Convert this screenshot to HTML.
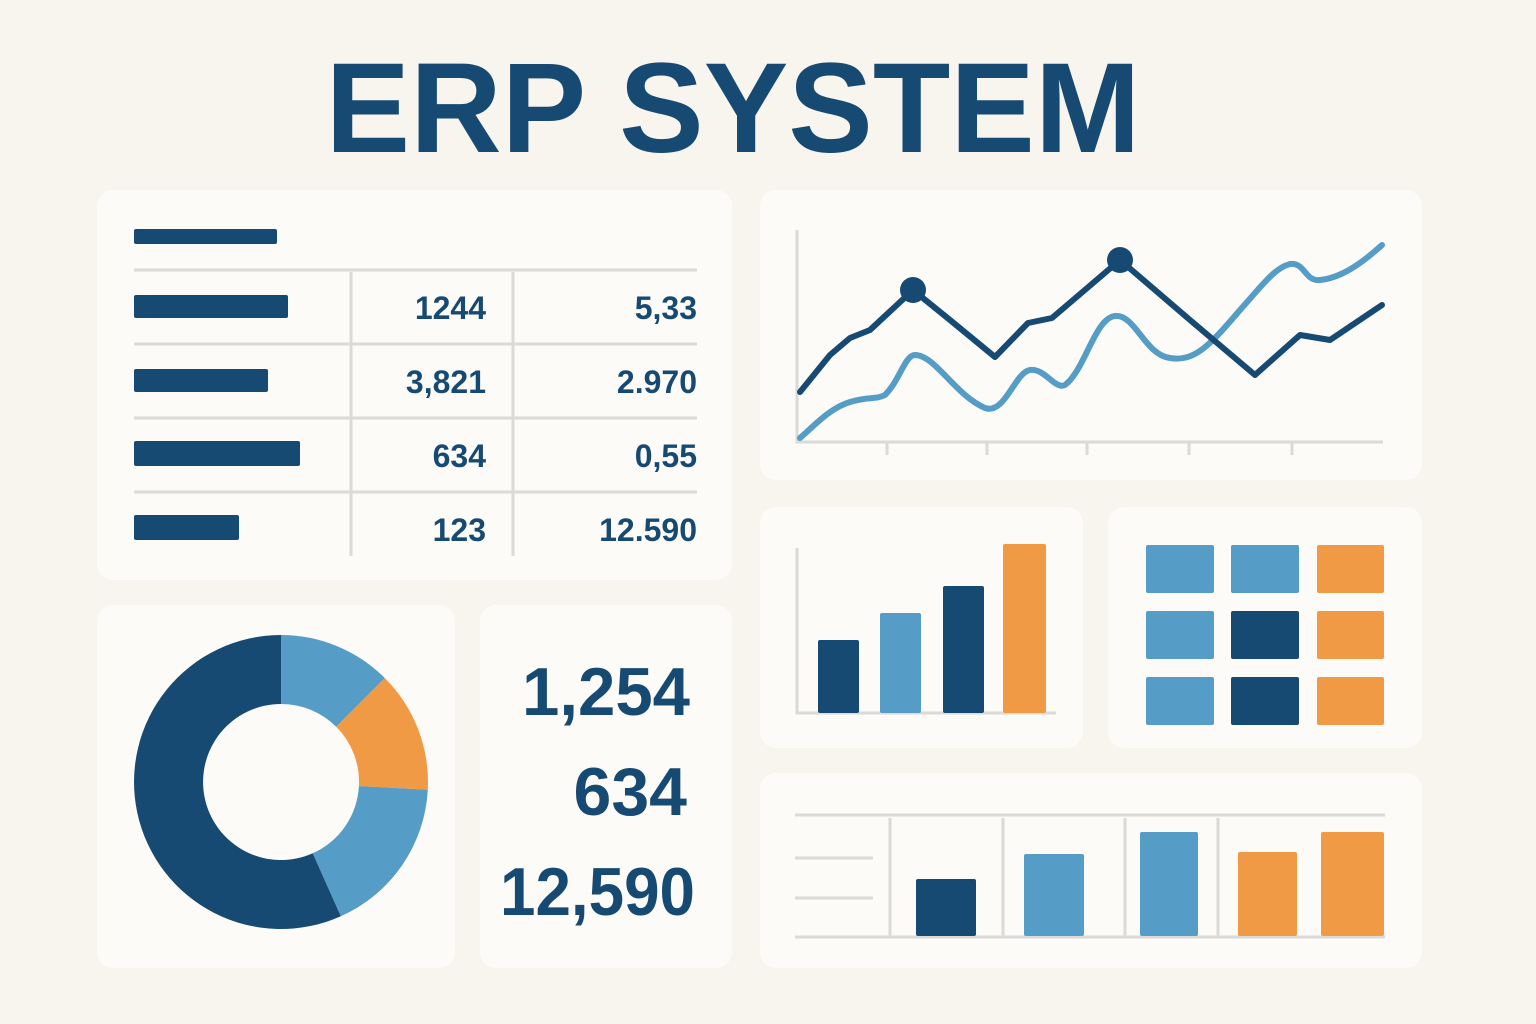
<!DOCTYPE html>
<html><head><meta charset="utf-8"><style>
html,body{margin:0;padding:0;background:#f8f4ee;}
svg{display:block}
text{font-family:"Liberation Sans",sans-serif;}
</style></head><body>
<svg width="1536" height="1024" viewBox="0 0 1536 1024" xmlns="http://www.w3.org/2000/svg">
<rect width="1536" height="1024" fill="#f8f4ee"/>
<text x="733" y="152" text-anchor="middle" font-size="128" font-weight="bold" fill="#174a72" textLength="815" lengthAdjust="spacingAndGlyphs">ERP SYSTEM</text>
<g fill="#fdfbf8">
<rect x="97" y="190" width="635" height="390" rx="16"/>
<rect x="760" y="190" width="662" height="290" rx="16"/>
<rect x="97" y="605" width="358" height="363" rx="16"/>
<rect x="480" y="605" width="252" height="363" rx="16"/>
<rect x="760" y="507" width="323" height="241" rx="16"/>
<rect x="1108" y="507" width="314" height="241" rx="16"/>
<rect x="760" y="773" width="662" height="195" rx="16"/>
</g>
<g fill="#174a72">
<rect x="134" y="229" width="143" height="15" rx="2"/>
<rect x="134" y="295" width="154" height="23" rx="2"/>
<rect x="134" y="369" width="134" height="23" rx="2"/>
<rect x="134" y="441" width="166" height="25" rx="2"/>
<rect x="134" y="515" width="105" height="25" rx="2"/>
</g>
<g stroke="#dcdad6" stroke-width="3">
<line x1="134" y1="270" x2="697" y2="270"/>
<line x1="134" y1="344" x2="697" y2="344"/>
<line x1="134" y1="418" x2="697" y2="418"/>
<line x1="134" y1="492" x2="697" y2="492"/>
<line x1="351" y1="272" x2="351" y2="556"/>
<line x1="513" y1="272" x2="513" y2="556"/>
</g>
<g font-size="32" fill="#174a72" text-anchor="end" font-weight="bold">
<text x="486" y="319">1244</text><text x="697" y="319">5,33</text>
<text x="486" y="393">3,821</text><text x="697" y="393">2.970</text>
<text x="486" y="467">634</text><text x="697" y="467">0,55</text>
<text x="486" y="541">123</text><text x="697" y="541">12.590</text>
</g>
<g stroke="#dcdad6" stroke-width="3" fill="none">
<path d="M797 230V442H1383"/>
<path d="M887 442v13M987 442v13M1087 442v13M1189 442v13M1292 442v13"/>
</g>
<path d="M800 438 C815 425,830 408,850 402 S875 400,885 395 C900 380,905 355,915 355 C935 355,955 395,985 408 C1005 415,1015 372,1030 370 C1045 368,1055 390,1065 385 C1085 370,1095 318,1115 316 C1135 314,1145 355,1170 358 C1195 362,1210 345,1240 310 C1265 282,1275 268,1290 264 C1305 262,1305 282,1320 280 C1340 278,1360 265,1382 245" fill="none" stroke="#559cc6" stroke-width="6" stroke-linecap="round"/>
<path d="M800 392 L830 355 L850 338 L870 330 L913 290 L950 320 L995 357 L1028 323 L1052 318 L1120 260 L1190 320 L1255 375 L1300 335 L1330 340 L1382 305" fill="none" stroke="#174a72" stroke-width="6" stroke-linejoin="round" stroke-linecap="round"/>
<circle cx="913" cy="290" r="13" fill="#174a72"/>
<circle cx="1120" cy="260" r="13" fill="#174a72"/>
<g transform="translate(281,782)">
<path d="M0 -147 A147 147 0 0 1 103.9 -103.9 L55.2 -55.2 A78 78 0 0 0 0 -78Z" fill="#559cc6"/>
<path d="M103.9 -103.9 A147 147 0 0 1 146.8 7.7 L77.9 4.1 A78 78 0 0 0 55.2 -55.2Z" fill="#f09a45"/>
<path d="M146.8 7.7 A147 147 0 0 1 59.8 134.3 L31.7 71.3 A78 78 0 0 0 77.9 4.1Z" fill="#559cc6"/>
<path d="M59.8 134.3 A147 147 0 1 1 0 -147 L0 -78 A78 78 0 1 0 31.7 71.3Z" fill="#174a72"/>
</g>
<g font-size="68" font-weight="bold" fill="#174a72" text-anchor="end">
<text x="690" y="715" textLength="168" lengthAdjust="spacingAndGlyphs">1,254</text>
<text x="687" y="815">634</text>
<text x="695" y="915" textLength="195" lengthAdjust="spacingAndGlyphs">12,590</text>
</g>
<path d="M797 548V713H1056" stroke="#dcdad6" stroke-width="3" fill="none"/>
<rect x="818" y="640" width="41" height="73" rx="2" fill="#174a72"/>
<rect x="880" y="613" width="41" height="100" rx="2" fill="#559cc6"/>
<rect x="943" y="586" width="41" height="127" rx="2" fill="#174a72"/>
<rect x="1003" y="544" width="43" height="169" rx="2" fill="#f09a45"/>
<g>
<rect x="1146" y="545" width="68" height="48" rx="2" fill="#559cc6"/>
<rect x="1231" y="545" width="68" height="48" rx="2" fill="#559cc6"/>
<rect x="1317" y="545" width="67" height="48" rx="2" fill="#f09a45"/>
<rect x="1146" y="611" width="68" height="48" rx="2" fill="#559cc6"/>
<rect x="1231" y="611" width="68" height="48" rx="2" fill="#174a72"/>
<rect x="1317" y="611" width="67" height="48" rx="2" fill="#f09a45"/>
<rect x="1146" y="677" width="68" height="48" rx="2" fill="#559cc6"/>
<rect x="1231" y="677" width="68" height="48" rx="2" fill="#174a72"/>
<rect x="1317" y="677" width="67" height="48" rx="2" fill="#f09a45"/>
</g>
<g stroke="#dcdad6" stroke-width="3">
<line x1="795" y1="815" x2="1385" y2="815"/>
<line x1="795" y1="937" x2="1385" y2="937"/>
<line x1="795" y1="858" x2="873" y2="858"/>
<line x1="795" y1="898" x2="873" y2="898"/>
<line x1="890" y1="818" x2="890" y2="937"/>
<line x1="1003" y1="818" x2="1003" y2="937"/>
<line x1="1125" y1="818" x2="1125" y2="937"/>
<line x1="1218" y1="818" x2="1218" y2="937"/>
</g>
<rect x="916" y="879" width="60" height="57" rx="2" fill="#174a72"/>
<rect x="1024" y="854" width="60" height="82" rx="2" fill="#559cc6"/>
<rect x="1140" y="832" width="58" height="104" rx="2" fill="#559cc6"/>
<rect x="1238" y="852" width="59" height="84" rx="2" fill="#f09a45"/>
<rect x="1321" y="832" width="63" height="104" rx="2" fill="#f09a45"/>
</svg>
</body></html>
